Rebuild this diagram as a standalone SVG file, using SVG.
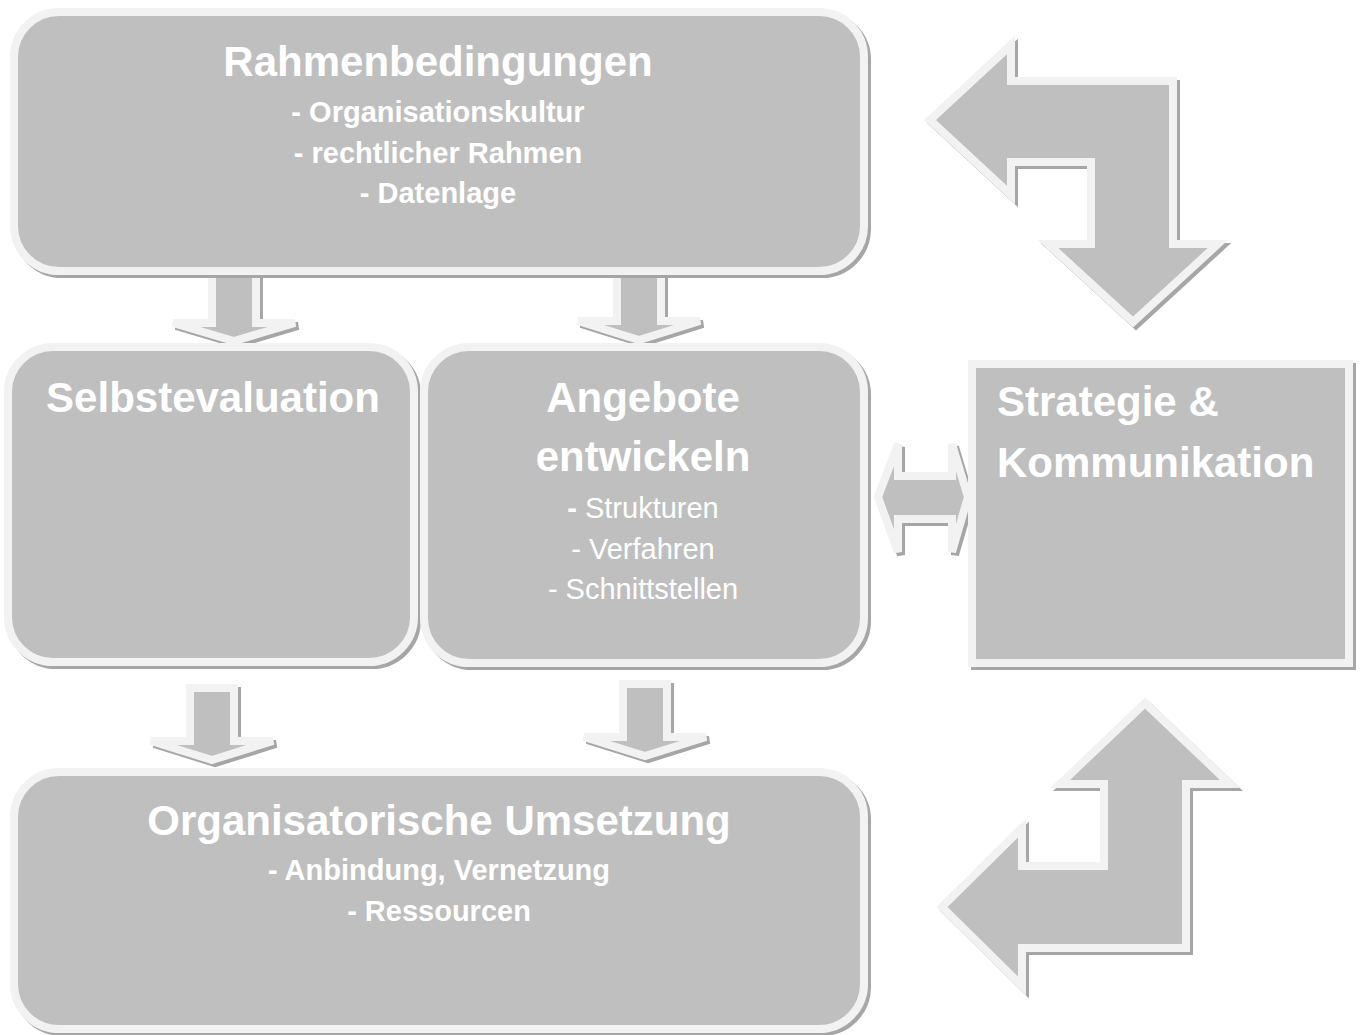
<svg xmlns="http://www.w3.org/2000/svg" width="1362" height="1035" viewBox="0 0 1362 1035">
<style>
.sh{fill:#a6a6a6;stroke:#a6a6a6;stroke-width:8;stroke-linejoin:miter}
.bx{fill:#bfbfbf;stroke:#f2f2f2;stroke-width:8;stroke-linejoin:miter}
.t{font-family:"Liberation Sans",Arial,sans-serif;fill:#ffffff;text-anchor:middle}
.h{font-size:42px;font-weight:bold}
.sb{font-size:29px;font-weight:bold}
.sr{font-size:29px}
</style>
<rect width="1362" height="1035" fill="#ffffff"/>
<g id="connectors">
  <g id="arrow-top-right">
    <polygon class="sh" transform="translate(3,3)" points="930,120 1011,45 1011,81 1173,81 1173,244 1218,244 1133,322 1048,244 1091,244 1091,162 1011,162 1011,195"/>
    <polygon class="bx" points="930,120 1011,45 1011,81 1173,81 1173,244 1218,244 1133,322 1048,244 1091,244 1091,162 1011,162 1011,195"/>
  </g>
  <g id="arrow-bottom-right">
    <polygon class="sh" transform="translate(3,3)" points="1145,703 1230,784 1186,784 1186,948 1022,948 1022,986 942,907 1022,828 1022,866 1104,866 1104,784 1060,784"/>
    <polygon class="bx" points="1145,703 1230,784 1186,784 1186,948 1022,948 1022,986 942,907 1022,828 1022,866 1104,866 1104,784 1060,784"/>
  </g>
  <g id="arrow-double">
    <polygon class="sh" transform="translate(3,3)" points="878,497 898,444 898,476 952,476 952,444 968,497 952,552 952,519 898,519 898,552"/>
    <polygon class="bx" points="878,497 898,444 898,476 952,476 952,444 968,497 952,552 952,519 898,519 898,552"/>
  </g>
  <g id="arrow-1">
    <polygon class="sh" transform="translate(3,3)" points="212,270 256,270 256,323 295,323 234,341 173,323 212,323"/>
    <polygon class="bx" points="212,270 256,270 256,323 295,323 234,341 173,323 212,323"/>
  </g>
  <g id="arrow-2">
    <polygon class="sh" transform="translate(3,3)" points="617,269 661,269 661,321 700,321 639,340 578,321 617,321"/>
    <polygon class="bx" points="617,269 661,269 661,321 700,321 639,340 578,321 617,321"/>
  </g>
  <g id="arrow-3">
    <polygon class="sh" transform="translate(3,3)" points="190,688 234,688 234,741 273,741 212,760 151,741 190,741"/>
    <polygon class="bx" points="190,688 234,688 234,741 273,741 212,760 151,741 190,741"/>
  </g>
  <g id="arrow-4">
    <polygon class="sh" transform="translate(3,3)" points="623,684 667,684 667,737 706,737 645,756 584,737 623,737"/>
    <polygon class="bx" points="623,684 667,684 667,737 706,737 645,756 584,737 623,737"/>
  </g>
</g>
<g id="node-rahmen">
  <rect class="sh" x="17" y="15" width="850" height="259" rx="45"/>
  <rect class="bx" x="14" y="12" width="850" height="259" rx="45"/>
  <text class="t h" x="438" y="76">Rahmenbedingungen</text>
  <text class="t sb" x="438" y="122">- Organisationskultur</text>
  <text class="t sb" x="438" y="163">- rechtlicher Rahmen</text>
  <text class="t sb" x="438" y="203">- Datenlage</text>
</g>
<g id="node-selbst">
  <rect class="sh" x="11" y="350" width="406" height="315" rx="45"/>
  <rect class="bx" x="8" y="347" width="406" height="315" rx="45"/>
  <text class="t h" x="213" y="412">Selbstevaluation</text>
</g>
<g id="node-angebote">
  <rect class="sh" x="427" y="350" width="440" height="316" rx="45"/>
  <rect class="bx" x="424" y="347" width="440" height="316" rx="45"/>
  <text class="t h" x="643" y="412">Angebote</text>
  <text class="t h" x="643" y="471">entwickeln</text>
  <text class="t sr" x="643" y="518"><tspan font-weight="bold">-</tspan> Strukturen</text>
  <text class="t sr" x="643" y="559">- Verfahren</text>
  <text class="t sr" x="643" y="599">- Schnittstellen</text>
</g>
<g id="node-strategie">
  <rect class="sh" x="975" y="367" width="377" height="299"/>
  <rect class="bx" x="972" y="364" width="377" height="299"/>
  <text class="t h" x="997" y="416" text-anchor="start" style="text-anchor:start">Strategie &amp;</text>
  <text class="t h" x="997" y="477" style="text-anchor:start">Kommunikation</text>
</g>
<g id="node-umsetzung">
  <rect class="sh" x="17" y="775" width="850" height="257" rx="45"/>
  <rect class="bx" x="14" y="772" width="850" height="257" rx="45"/>
  <text class="t h" x="439" y="835">Organisatorische Umsetzung</text>
  <text class="t sb" x="439" y="880">- Anbindung, Vernetzung</text>
  <text class="t sb" x="439" y="921">- Ressourcen</text>
</g>
</svg>
